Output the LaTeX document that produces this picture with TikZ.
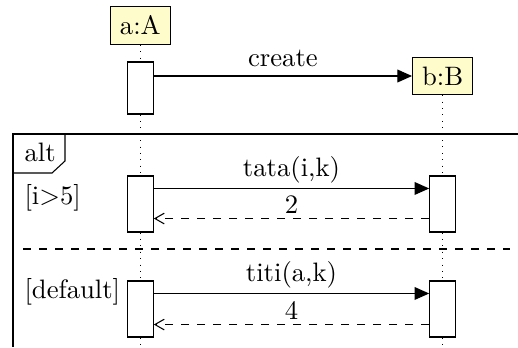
\documentclass[tikz,border=0pt]{standalone}
\usetikzlibrary{arrows.meta,calc}
\begin{document}
\begin{tikzpicture}[x=0.375pt,y=-0.375pt,
  inst/.style={draw, fill=yellow!20, minimum width=22.6pt, minimum height=14pt, inner sep=1pt},
  actbox/.style={draw, fill=white, minimum width=9.75pt, inner sep=0pt},
  lifeline/.style={dotted},
  callmsg/.style={-{Triangle[length=5.5pt,width=4.8pt]}},
  retmsg/.style={dashed, -{Straight Barb[length=3.5pt,width=4pt]}},
  msglabel/.style={anchor=base, inner sep=0pt}]
\useasboundingbox (0,0) rectangle (518,347);

% instances
\node[inst] (A) at (140.3,25.5) {a:A};
\node[inst] (B) at (442.7,76) {b:B};

% activations
\node[actbox, minimum height=19.5pt] (A1) at (140.3,88) {};
\node[actbox, minimum height=21pt] (A2) at (140.3,204) {};
\node[actbox, minimum height=21pt] (A3) at (140.3,309) {};
\node[actbox, minimum height=21pt] (B2) at (442.7,204) {};
\node[actbox, minimum height=21pt] (B3) at (442.7,309) {};

\coordinate (endA) at (140.3,347);
\coordinate (endB) at (442.7,347);

% lifelines
\draw[lifeline] (A.south) -- (A1.north);
\draw[lifeline] (A1.south) -- (A2.north);
\draw[lifeline] (A2.south) -- (A3.north);
\draw[lifeline] (A3.south) -- (endA);
\draw[lifeline] (B.south) -- (B2.north);
\draw[lifeline] (B2.south) -- (B3.north);
\draw[lifeline] (B3.south) -- (endB);

% alt frame
\draw (518,134) -- (13,134) -- (13,347);
\draw (65,134) -- (65,161) -- (52,173) -- (13,173);
\node[anchor=base west, inner sep=0pt] (altlbl) at (24,161) {alt};
\node[anchor=base west, inner sep=0pt] (g1) at (24,204) {[i$>$5]};
\node[anchor=base west, inner sep=0pt] (g2) at (24,298) {[default]};
\draw[dashed] (23,249) -- (510,249);

% messages
\draw[callmsg] (A1.east |- B.west) -- node[msglabel, yshift=3.6pt] {create} (B.west);

\coordinate (c1) at ($(A2.north east)+(0,13)$);
\coordinate (c1b) at ($(B2.north west)+(0,13)$);
\draw[callmsg] (c1) -- node[msglabel, yshift=4.5pt] {tata(i,k)} (c1b);
\coordinate (r1) at ($(B2.south west)+(0,-14)$);
\coordinate (r1b) at ($(A2.south east)+(0,-14)$);
\draw[retmsg] (r1) -- node[msglabel, yshift=1.9pt] {2} (r1b);

\coordinate (c2) at ($(A3.north east)+(0,13)$);
\coordinate (c2b) at ($(B3.north west)+(0,13)$);
\draw[callmsg] (c2) -- node[msglabel, yshift=4.5pt] {titi(a,k)} (c2b);
\coordinate (r2) at ($(B3.south west)+(0,-13)$);
\coordinate (r2b) at ($(A3.south east)+(0,-13)$);
\draw[retmsg] (r2) -- node[msglabel, yshift=1.9pt] {4} (r2b);
\end{tikzpicture}
\end{document}
